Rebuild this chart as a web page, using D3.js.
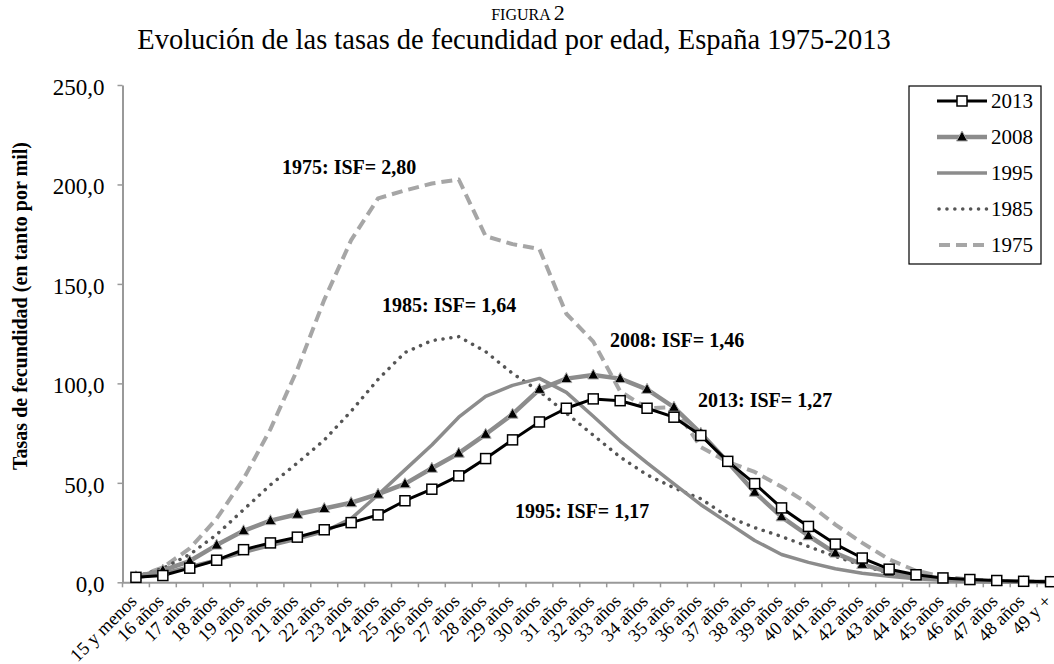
<!DOCTYPE html>
<html>
<head>
<meta charset="utf-8">
<script src="https://cdn.jsdelivr.net/npm/d3@7/dist/d3.min.js"></script>
<style>
  html, body { margin: 0; padding: 0; background: #fff; }
  svg { display: block; font-family: "Liberation Serif", "Times New Roman", serif; }
</style>
</head>
<body>
<svg id="chart" width="1054" height="664"></svg>
<script>
// Categories (age groups)
const ages = ["15 y menos", "16 años", "17 años", "18 años", "19 años", "20 años", "21 años",
  "22 años", "23 años", "24 años", "25 años", "26 años", "27 años", "28 años", "29 años",
  "30 años", "31 años", "32 años", "33 años", "34 años", "35 años", "36 años", "37 años",
  "38 años", "39 años", "40 años", "41 años", "42 años", "43 años", "44 años", "45 años",
  "46 años", "47 años", "48 años", "49 y +"];

// Fertility rates per 1000 women
const tasas2013 = [2.5, 3.4, 7.1, 11.1, 16.4, 19.8, 22.7, 26.4, 30.0, 33.9, 41.0, 46.8, 53.5, 62.2, 71.6,
  80.6, 87.5, 92.2, 91.3, 87.5, 83.0, 73.8, 60.8, 49.6, 37.4, 28.1, 19.2, 12.2, 6.6, 3.8, 2.2, 1.4, 0.9, 0.5, 0.3];
const tasas2008 = [2.8, 6.0, 10.7, 18.7, 25.9, 31.0, 34.2, 37.1, 40.0, 44.3, 49.5, 57.3, 64.9, 74.4, 84.5,
  97.0, 102.4, 104.2, 102.4, 97.0, 88.0, 74.9, 60.5, 45.3, 32.9, 23.4, 14.7, 9.0, 5.1, 3.0, 1.5, 0.8, 0.4, 0.3, 0.2];
const tasas1995 = [2.3, 4.5, 7.8, 11.2, 15.0, 18.5, 21.8, 25.5, 32.0, 44.0, 56.5, 69.0, 83.0, 93.5, 99.0,
  102.5, 95.5, 83.5, 71.0, 60.0, 49.5, 39.0, 30.0, 21.0, 14.0, 10.0, 6.8, 4.6, 3.0, 1.8, 1.0, 0.5, 0.3, 0.2, 0.1];
const tasas1985 = [2.8, 7.0, 14.0, 24.0, 36.5, 49.0, 60.0, 71.5, 86.0, 102.0, 115.5, 121.5, 123.5, 116.0, 105.0,
  96.0, 85.0, 74.0, 63.0, 54.0, 47.5, 42.0, 33.0, 27.5, 23.0, 18.0, 13.0, 8.5, 4.5, 2.3, 1.2, 0.6, 0.3, 0.2, 0.1];
const tasas1975 = [2.5, 7.5, 17.0, 32.0, 52.0, 77.0, 107.0, 142.0, 172.0, 193.0, 197.0, 200.5, 202.5, 174.0, 170.0,
  167.5, 135.0, 121.0, 96.0, 87.5, 88.0, 68.0, 60.5, 55.5, 48.0, 39.5, 29.0, 19.8, 11.5, 5.8, 2.8, 1.4, 0.7, 0.4, 0.3];

const yTicks = [0, 50, 100, 150, 200, 250];

const annotations = [
  { text: "1975: ISF= 2,80", x: 282, y: 174 },
  { text: "1985: ISF= 1,64", x: 382, y: 312 },
  { text: "2008: ISF= 1,46", x: 610, y: 347 },
  { text: "2013: ISF= 1,27", x: 698, y: 407 },
  { text: "1995: ISF= 1,17", x: 515, y: 518 }
];

// Series styles (legend order)
const series = [
  { name: "2013", values: tasas2013, color: "#000", width: 3, dash: null, cap: "butt", marker: "square" },
  { name: "2008", values: tasas2008, color: "#8c8c8c", width: 4.5, dash: null, cap: "butt", marker: "triangle" },
  { name: "1995", values: tasas1995, color: "#8c8c8c", width: 3.5, dash: null, cap: "butt", marker: null },
  { name: "1985", values: tasas1985, color: "#555", width: 3.5, dash: "0.1,7.8", cap: "round", marker: null },
  { name: "1975", values: tasas1975, color: "#a6a6a6", width: 4, dash: "11,6", cap: "butt", marker: null }
];

const svg = d3.select("#chart");
const plotLeft = 122.5, band = 26.9, plotTop = 85, plotBottom = 582.3;

const x = d3.scaleBand().domain(ages).range([plotLeft, plotLeft + band * ages.length]).padding(0);
const cx = d => x(d) + x.bandwidth() / 2;
const y = d3.scaleLinear().domain([0, 250]).range([plotBottom, plotTop]);

// Titles
svg.append("text")
  .attr("x", 528).attr("y", 19.5)
  .attr("text-anchor", "middle")
  .style("font-size", "16px")
  .text("FIGURA ")
  .append("tspan").style("font-size", "22px").text("2");

svg.append("text")
  .attr("x", 514).attr("y", 49)
  .attr("text-anchor", "middle")
  .style("font-size", "28.5px")
  .text("Evolución de las tasas de fecundidad por edad, España 1975-2013");

// Y axis
const yAxis = svg.append("g")
  .attr("transform", "translate(" + plotLeft + ",0)")
  .call(d3.axisLeft(y).tickValues(yTicks).tickSize(5).tickSizeOuter(0).tickPadding(13)
    .tickFormat(d => d3.format(".1f")(d).replace(".", ",")));
yAxis.selectAll("text").style("font-size", "23px").style("font-family", "Liberation Serif").attr("fill", "#000").attr("dy", "0.4em");
yAxis.selectAll("line").attr("stroke", "#999").attr("stroke-width", 1.5);
yAxis.select(".domain").attr("stroke", "#999").attr("stroke-width", 2);

svg.append("text")
  .attr("transform", "translate(27,306) rotate(-90)")
  .attr("text-anchor", "middle")
  .style("font-size", "20px")
  .style("font-weight", "bold")
  .text("Tasas de fecundidad (en tanto por mil)");

// X axis
const xAxis = svg.append("g")
  .attr("transform", "translate(0," + plotBottom + ")")
  .call(d3.axisBottom(x).tickSize(0).tickSizeOuter(0).tickPadding(0));
xAxis.select(".domain").attr("stroke", "#999").attr("stroke-width", 2);
xAxis.selectAll(".tick text")
  .style("font-size", "18.5px")
  .style("font-family", "Liberation Serif")
  .attr("fill", "#000")
  .attr("text-anchor", "end")
  .attr("dy", null)
  .attr("y", null)
  .attr("transform", "translate(2,20) rotate(-45)");
// tick marks sit between categories
svg.append("g").selectAll("line")
  .data(ages.concat([null]))
  .join("line")
  .attr("x1", d => d === null ? x.range()[1] : x(d))
  .attr("x2", d => d === null ? x.range()[1] : x(d))
  .attr("y1", plotBottom).attr("y2", plotBottom + 5)
  .attr("stroke", "#999").attr("stroke-width", 1.5);

// Lines
const line = d3.line().x((d, i) => cx(ages[i])).y(d => y(d));
const drawOrder = series.slice().reverse();
svg.append("g").selectAll("path")
  .data(drawOrder)
  .join("path")
  .attr("d", d => line(d.values))
  .attr("fill", "none")
  .attr("stroke", d => d.color)
  .attr("stroke-width", d => d.width)
  .attr("stroke-dasharray", d => d.dash)
  .attr("stroke-linecap", d => d.cap)
  .attr("stroke-linejoin", "round");

const triPath = "M0,-6 L5.5,4 L-5.5,4 Z";
function drawMarker(g, s) {
  if (s.marker === "square") {
    g.append("rect").attr("x", -5).attr("y", -5).attr("width", 10).attr("height", 10)
      .attr("fill", "#fff").attr("stroke", "#000").attr("stroke-width", 1.5);
  } else if (s.marker === "triangle") {
    g.append("path").attr("d", triPath).attr("fill", "#000").attr("stroke", "#aaa").attr("stroke-width", 1);
  }
}

series.filter(s => s.marker).reverse().forEach(s => {
  svg.append("g").selectAll("g")
    .data(s.values)
    .join("g")
    .attr("transform", (d, i) => "translate(" + cx(ages[i]) + "," + y(d) + ")")
    .each(function () { drawMarker(d3.select(this), s); });
});

// Annotations
svg.append("g").selectAll("text")
  .data(annotations)
  .join("text")
  .attr("x", d => d.x).attr("y", d => d.y)
  .style("font-size", "20px").style("font-weight", "bold")
  .text(d => d.text);

// Legend
const legend = svg.append("g");
legend.append("rect")
  .attr("x", 909).attr("y", 86).attr("width", 132).attr("height", 178)
  .attr("fill", "#fff").attr("stroke", "#000").attr("stroke-width", 1.2);
const rows = legend.selectAll("g.row")
  .data(series)
  .join("g")
  .attr("class", "row")
  .attr("transform", (d, i) => "translate(0," + (101 + i * 36) + ")");
rows.append("line")
  .attr("x1", d => d.dash ? 939 : 937).attr("x2", 987)
  .attr("stroke", d => d.color)
  .attr("stroke-width", d => d.width)
  .attr("stroke-dasharray", d => d.dash)
  .attr("stroke-linecap", d => d.cap);
rows.each(function (s) {
  if (s.marker) {
    const m = d3.select(this).append("g").attr("transform", "translate(962,0)");
    drawMarker(m, s);
  }
});
rows.append("text")
  .attr("x", 991).attr("y", 7)
  .style("font-size", "21px")
  .text(d => d.name);
</script>
</body>
</html>
